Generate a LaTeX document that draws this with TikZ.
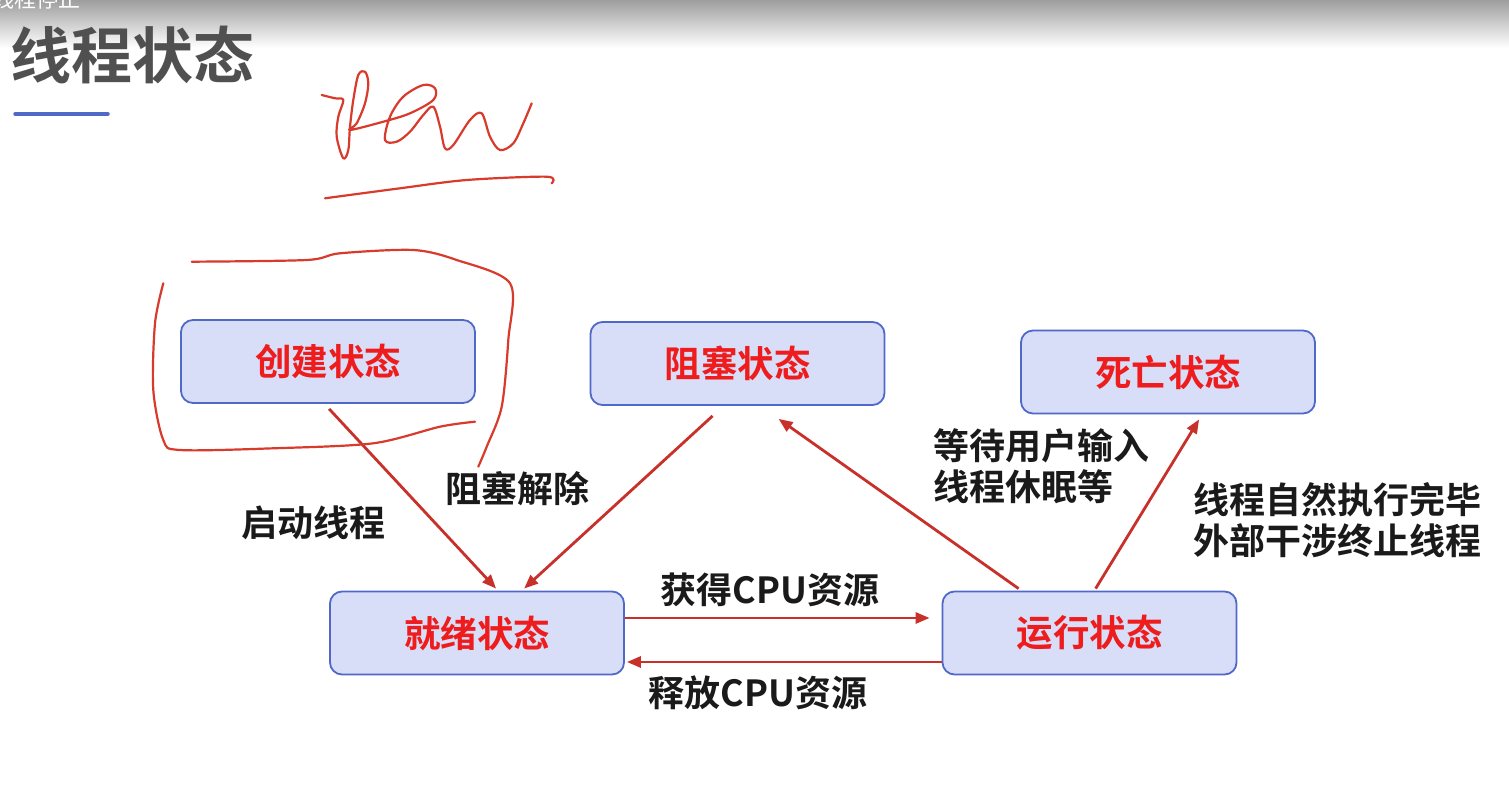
\documentclass[tikz,border=0pt]{standalone}
\usepackage{fontspec}
\newfontfamily\cjk{Noto Sans CJK SC}[BoldFont={Noto Sans CJK SC Bold}]
\usetikzlibrary{arrows.meta,calc,shapes.misc}
\definecolor{boxfill}{HTML}{D8DEF8}
\definecolor{boxline}{HTML}{5068C8}
\definecolor{statered}{HTML}{EE1C1C}
\definecolor{arrowred}{HTML}{C8302A}
\definecolor{penred}{HTML}{D83A2C}
\definecolor{titlegray}{HTML}{505050}
\definecolor{labelblack}{HTML}{1A1A1A}
\tikzset{
  statebox/.style={draw=boxline, line width=1.8pt, fill=boxfill, rounded corners=12pt,
    minimum width=294pt, minimum height=83pt, inner sep=0pt,
    font=\cjk\bfseries\fontsize{36.5}{40}\selectfont, text=statered},
  arr/.style={draw=arrowred, line width=2.8pt, -{Triangle[length=14pt,width=11pt]}},
  lbl/.style={font=\cjk\bfseries\fontsize{36}{41}\selectfont, text=labelblack, inner sep=0pt},
  pen/.style={draw=penred, line width=2.2pt, line cap=round, line join=round}
}
\begin{document}
\begin{tikzpicture}[x=1pt,y=-1pt]
\useasboundingbox (0,0) rectangle (1509,791);
\fill[white] (0,0) rectangle (1509,791);
\shade[top color=black!38, bottom color=white] (0,0) rectangle (1509,48);
\node[font=\cjk\fontsize{22}{24}\selectfont, text=white, anchor=west, inner sep=0pt] (top) at (-8,-1) {线程停止};
% title
\node[font=\cjk\bfseries\fontsize{61}{64}\selectfont, text=titlegray, inner sep=0pt] (title) at (132,55) {线程状态};
\coordinate (ulA) at (15,114);
\coordinate (ulB) at (108,114);
\draw[boxline, line width=3.5pt, line cap=round] (ulA) -- (ulB);
% state boxes
\node[statebox] (create) at (328,361.5) {创建状态};
\node[statebox] (block) at (737.5,363.5) {阻塞状态};
\node[statebox] (dead) at (1168,372) {死亡状态};
\node[statebox] (ready) at (477,633) {就绪状态};
\node[statebox] (run) at (1089.5,633) {运行状态};
% connectors
\draw[arr] ($(create.south west)+(149,5)$) -- ($(ready.north west)+(167,-2)$);
\draw[arr] ($(block.south west)+(123,10)$) -- ($(ready.north west)+(195,-2)$);
\draw[arr] ($(run.north west)+(77,-2)$) -- ($(block.south west)+(189,13)$);
\draw[arr] ($(run.north west)+(154,-2)$) -- ($(dead.south west)+(179,5)$);
\draw[arr] ($(ready.east)+(0,-15)$) -- ($(run.west)+(-12,-15)$);
\draw[arr] ($(run.west)+(0,29)$) -- ($(ready.east)+(2,29)$);
% labels
\node[lbl] (l1) at (313,523) {启动线程};
\node[lbl] (l2) at (517,489) {阻塞解除};
\node[lbl, anchor=west, align=left] (l3) at (933,466) {等待用户输入\\线程休眠等};
\node[lbl, anchor=west, align=left] (l4) at (1193,520) {线程自然执行完毕\\外部干涉终止线程};
\node[lbl] (l5) at (770,590) {获得CPU资源};
\node[lbl] (l6) at (758,693) {释放CPU资源};
% handwriting "new"
\draw[pen] plot[smooth, tension=0.55] coordinates {
(321.7,95) (335,98.3) (343.3,100) (338.3,116.7) (336.7,136.7) (343.3,158.3)
(348.3,150) (350,126.7) (353.3,100) (358.3,75) (365,71.7) (368.3,83.3)
(365,103.3) (356.7,123.3) (350,130) (383.3,121.7) (410,113.3) (433.3,100)
(435,88.3) (423.3,85) (403.3,96.7) (390,116.7) (385,140) (396.7,141.7)
(410,131.7) (423.3,115) (433.3,106.7) (440,126.7) (445,148.3) (453.3,145)
(470,120) (481.7,113.3) (490,136.7) (500,150) (513.3,143.3) (523.3,123.3) (531.7,103.3)};
\draw[pen] plot[smooth, tension=0.5] coordinates {
(325,198.3) (400,188.3) (466.7,180) (546.7,176.7) (551.7,183.3)};
% handwriting circle around create
\draw[pen] plot[smooth, tension=0.5] coordinates {
(191.7,261.7) (306.7,260) (340,253.3) (413.3,250) (456.7,260) (510,283.3)
(508.3,340) (501.7,406.7) (486.7,446.7) (478.3,466.7)};
\draw[pen] plot[smooth, tension=0.5] coordinates {
(163.3,283.3) (155,323.3) (153.3,390) (163.3,440) (180,450) (273.3,448.3)
(373.3,443.3) (440,426.7) (475,421.7)};
\end{tikzpicture}
\end{document}
